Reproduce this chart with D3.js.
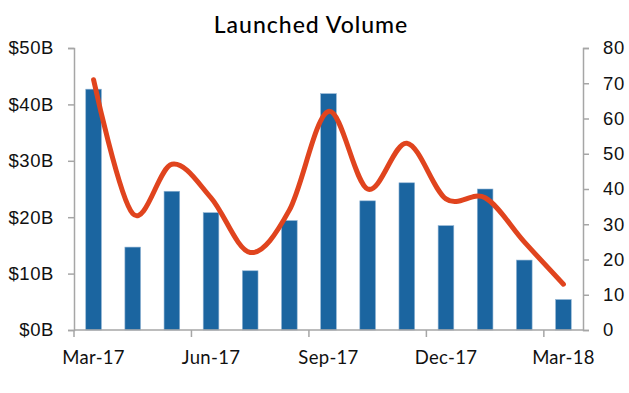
<!DOCTYPE html>
<html>
<head>
<meta charset="utf-8">
<script src="https://cdn.jsdelivr.net/npm/d3@7"></script>
<style>
    body { margin: 0; background: #fff; }
    svg { display: block; font-family: Lato, "Open Sans", sans-serif; }
</style>
</head>
<body>
<svg id="chart" width="629" height="393"></svg>
<script>
var months = ['Mar-17', 'Apr-17', 'May-17', 'Jun-17', 'Jul-17', 'Aug-17', 'Sep-17',
              'Oct-17', 'Nov-17', 'Dec-17', 'Jan-18', 'Feb-18', 'Mar-18'];
// launched volume, $B (bars, left axis)
var volume = [42.7, 14.7, 24.6, 20.8, 10.5, 19.4, 41.9, 22.9, 26.1, 18.5, 25.0, 12.4, 5.4];
// deal count (line, right axis)
var count = [71, 33, 47, 37.5, 22, 34, 62, 40, 53, 37.2, 37.5, 25, 13];
var leftTicks = [0, 10, 20, 30, 40, 50];
var rightTicks = [0, 10, 20, 30, 40, 50, 60, 70, 80];
var labelEvery = 3;

var margin = {top: 48, right: 46, bottom: 63, left: 74};
var width = 629 - margin.left - margin.right,
    height = 393 - margin.top - margin.bottom;

var svg = d3.select('#chart');
var g = svg.append('g')
    .attr('transform', 'translate(' + margin.left + ',' + margin.top + ')');

var x = d3.scaleBand().domain(months).range([0, width]).paddingInner(0.6).paddingOuter(0.3);
var yL = d3.scaleLinear().domain([0, 50]).range([height, 0]);
var yR = d3.scaleLinear().domain([0, 80]).range([height, 0]);

var axisColor = '#a6a6a6';
var step = width / months.length;

// bars
g.selectAll('rect.bar').data(volume).enter().append('rect')
    .attr('class', 'bar')
    .attr('x', function(d, i) { return x(months[i]); })
    .attr('y', function(d) { return yL(d); })
    .attr('width', x.bandwidth())
    .attr('height', function(d) { return height - yL(d); })
    .attr('fill', '#1b65a0')
    .attr('stroke', '#8fb3d3')
    .attr('stroke-width', 0.6);

// smoothed line
var line = d3.line()
    .x(function(d, i) { return x(months[i]) + x.bandwidth() / 2; })
    .y(function(d) { return yR(d); })
    .curve(d3.curveCardinal.tension(0));

g.append('path').datum(count)
    .attr('d', line)
    .attr('fill', 'none')
    .attr('stroke', '#e0441e')
    .attr('stroke-width', 5)
    .attr('stroke-linecap', 'round')
    .attr('stroke-linejoin', 'round');

// axes
function styleAxis(sel) {
    sel.select('.domain').attr('stroke', axisColor).attr('stroke-width', 1.5);
    sel.selectAll('.tick line').attr('stroke', axisColor).attr('stroke-width', 1.5);
    sel.selectAll('.tick text').attr('fill', '#111')
        .style('font-size', '18.5px').style('letter-spacing', '0.6px');
}

var leftAxis = g.append('g')
    .call(d3.axisLeft(yL).tickValues(leftTicks).tickSize(6).tickSizeOuter(6).tickPadding(14)
        .tickFormat(function(d) { return '$' + d + 'B'; }));
styleAxis(leftAxis);

var rightAxis = g.append('g')
    .attr('transform', 'translate(' + width + ',0)')
    .call(d3.axisRight(yR).tickValues(rightTicks).tickSize(6).tickSizeOuter(6).tickPadding(14));
styleAxis(rightAxis);

// x axis: ticks at category boundaries every 3 months, labels under every 3rd bar
var bottom = g.append('g').attr('transform', 'translate(0,' + height + ')');
bottom.append('line')
    .attr('x1', 0).attr('x2', width)
    .attr('stroke', axisColor).attr('stroke-width', 1.5);
var tickIdx = d3.range(0, months.length, labelEvery);
bottom.selectAll('line.tk').data(tickIdx).enter().append('line')
    .attr('class', 'tk')
    .attr('x1', function(i) { return i * step; })
    .attr('x2', function(i) { return i * step; })
    .attr('y1', 0).attr('y2', 7)
    .attr('stroke', axisColor).attr('stroke-width', 1.5);
bottom.selectAll('text').data(tickIdx).enter().append('text')
    .attr('x', function(i) { return x(months[i]) + x.bandwidth() / 2; })
    .attr('y', 34)
    .attr('text-anchor', 'middle')
    .attr('fill', '#111')
    .style('font-size', '18.5px')
    .style('letter-spacing', '0.3px')
    .text(function(i) { return months[i]; });

// title
svg.append('text')
    .attr('x', 311).attr('y', 33)
    .attr('text-anchor', 'middle')
    .attr('fill', '#000')
    .style('font-size', '23px')
    .style('font-weight', 500)
    .style('letter-spacing', '1px')
    .text('Launched Volume');
</script>
</body>
</html>
